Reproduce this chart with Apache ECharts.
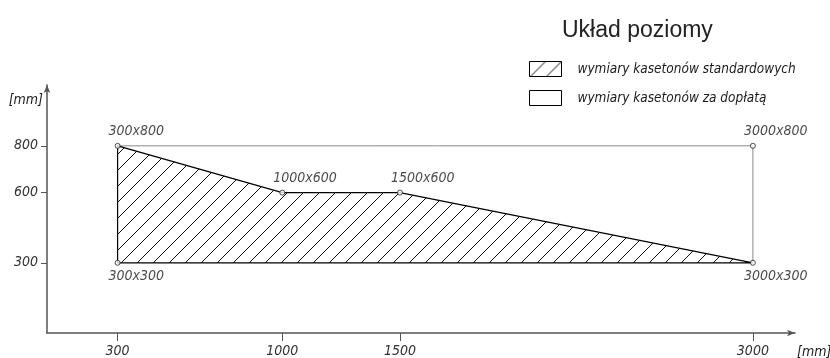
<!DOCTYPE html>
<html>
<head>
<meta charset="utf-8">
<script src="https://cdn.jsdelivr.net/npm/echarts@6/dist/echarts.min.js"></script>
<style>html,body{margin:0;padding:0;background:#fff}#c{width:830px;height:358px}</style>
</head>
<body>
<div id="c"></div>
<script>
// ---- data ----
const titleText = 'Układ poziomy';
const seriesStdName = 'wymiary kasetonów standardowych';
const seriesExtraName = 'wymiary kasetonów za dopłatą';
// standard area polygon (width mm, height mm)
const stdX = [300, 300, 1000, 1500, 3000];
const stdY = [300, 800, 600, 600, 300];
// extra area outline (goes beyond the standard area)
const extraX = [300, 3000, 3000];
const extraY = [800, 800, 300];
// labelled corner points
const ptX = [300, 1000, 1500, 3000, 300, 3000];
const ptY = [800, 600, 600, 800, 300, 300];
const xTicks = [300, 1000, 1500, 3000];
const yTicks = [300, 600, 800];
const unitLabel = '[mm]';

// ---- styles ----
const FONT = "'DejaVu Sans Condensed', 'Liberation Sans Narrow', 'DejaVu Sans', sans-serif";
const TXT = '#1a1a1a';
const labelStyle = { fontFamily: FONT, fontStyle: 'italic', fontWeight: 'normal', fontSize: 14, color: TXT };
const axisLabelStyle = { fontFamily: FONT, fontStyle: 'oblique', fontWeight: 'normal', fontSize: 14, color: '#333' };

function hatch() {
  const s = 16;
  const c = document.createElement('canvas');
  c.width = s; c.height = s;
  const g = c.getContext('2d');
  g.fillStyle = '#fff';
  g.fillRect(0, 0, s, s);
  g.strokeStyle = '#111';
  g.lineWidth = 1;
  g.beginPath();
  g.moveTo(0, s); g.lineTo(s, 0);
  g.moveTo(-2, 2); g.lineTo(2, -2);
  g.moveTo(s - 2, s + 2); g.lineTo(s + 2, s - 2);
  g.stroke();
  return { image: c, repeat: 'repeat' };
}
const hatchFill = hatch();

const chart = echarts.init(document.getElementById('c'), null, { renderer: 'canvas' });

chart.setOption({
  animation: false,
  backgroundColor: '#fff',
  title: {
    text: titleText,
    left: 562, top: 19, padding: 0,
    textStyle: { fontFamily: "'Liberation Sans', 'DejaVu Sans', sans-serif", fontSize: 23, fontWeight: 'normal', color: '#222' }
  },
  legend: {
    orient: 'vertical',
    left: 529, top: 61, padding: 0,
    itemWidth: 32, itemHeight: 15, itemGap: 13,
    selectedMode: false,
    textStyle: { fontFamily: FONT, fontStyle: 'italic', fontSize: 13.5, color: TXT, padding: [0, 0, 0, 11] },
    data: [
      { name: seriesStdName, icon: 'rect', itemStyle: { color: hatchFill, borderColor: '#000', borderWidth: 1 } },
      { name: seriesExtraName, icon: 'rect', itemStyle: { color: '#fff', borderColor: '#000', borderWidth: 1 } }
    ]
  },
  grid: { left: 47, right: 35, top: 85, bottom: 25, outerBoundsMode: 'none', containLabel: false },
  xAxis: {
    type: 'value', min: 0, max: 3179,
    name: unitLabel, nameLocation: 'end', nameGap: 2,
    nameTextStyle: Object.assign({}, labelStyle, { verticalAlign: 'top', align: 'left', padding: [12, 0, 0, 0] }),
    axisLine: { show: true, lineStyle: { color: '#555', width: 1.5 }, symbol: ['none', 'arrow'], symbolSize: [5, 8] },
    axisTick: { show: true, customValues: xTicks, length: 8, lineStyle: { color: '#555' } },
    axisLabel: Object.assign({ customValues: xTicks, margin: 11, formatter: v => String(v) }, axisLabelStyle),
    splitLine: { show: false }
  },
  yAxis: {
    type: 'value', min: 0, max: 1060,
    name: unitLabel, nameLocation: 'end', nameGap: -15,
    nameTextStyle: Object.assign({}, labelStyle, { align: 'right', verticalAlign: 'middle', padding: [0, 4, 0, 0] }),
    axisLine: { show: true, lineStyle: { color: '#555', width: 1.5 }, symbol: ['none', 'arrow'], symbolSize: [5, 8] },
    axisTick: { show: true, customValues: yTicks, length: 6, lineStyle: { color: '#555' } },
    axisLabel: Object.assign({ customValues: yTicks, margin: 9, formatter: v => String(v) }, axisLabelStyle),
    splitLine: { show: false }
  },
  series: [
    {
      name: seriesExtraName,
      type: 'line',
      data: extraX.map((x, i) => [x, extraY[i]]),
      showSymbol: false,
      lineStyle: { color: '#8a8a8a', width: 1 },
      itemStyle: { color: '#fff', borderColor: '#000' },
      z: 2
    },
    {
      name: seriesStdName,
      type: 'custom',
      data: [[stdX[0], stdY[0]]],
      renderItem: function (params, api) {
        const pts = stdX.map((x, i) => api.coord([x, stdY[i]]));
        return {
          type: 'polygon',
          shape: { points: pts },
          style: { fill: hatchFill, stroke: '#000', lineWidth: 1.2 }
        };
      },
      itemStyle: { color: hatchFill, borderColor: '#000' },
      z: 3
    },
    {
      name: 'points',
      type: 'scatter',
      data: ptX.map((x, i) => ({
        value: [x, ptY[i]],
        label: { position: ptY[i] === 300 ? 'bottom' : 'top' }
      })),
      symbol: 'circle',
      symbolSize: 5,
      itemStyle: { color: '#fff', borderColor: '#222', borderWidth: 1 },
      label: Object.assign({
        show: true,
        distance: 4,
        align: 'left',
        offset: [-9, 0],
        formatter: p => p.value[0] + 'x' + p.value[1]
      }, labelStyle),
      z: 5
    }
  ]
});
</script>
</body>
</html>
